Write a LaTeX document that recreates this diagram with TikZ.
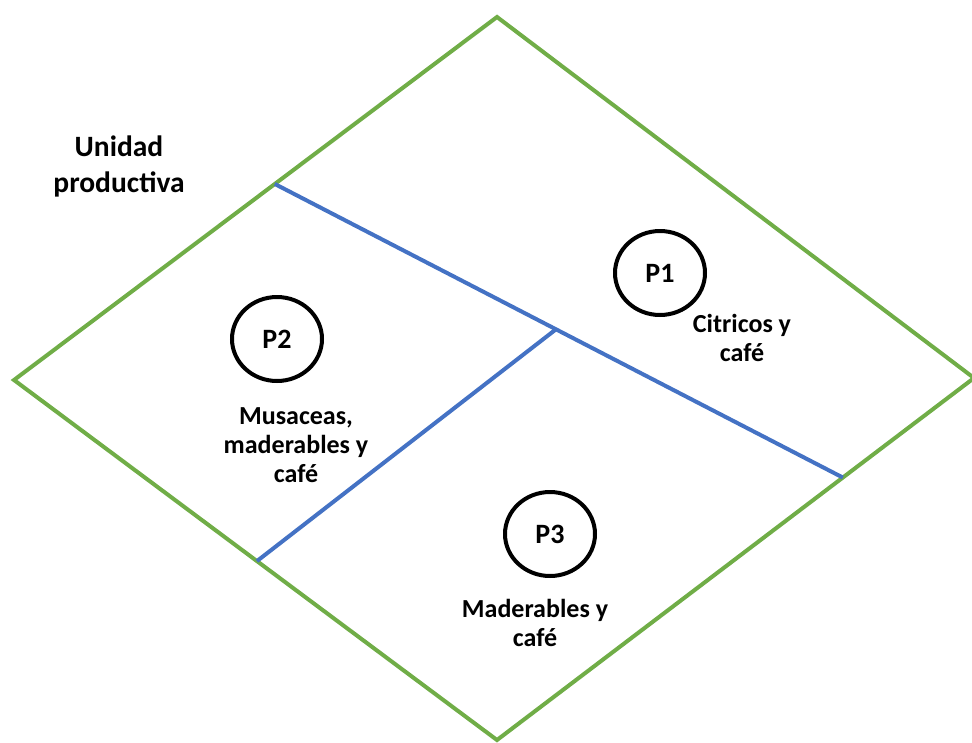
\documentclass[tikz,border=0pt]{standalone}
\usepackage{fontspec}
\setmainfont{Carlito}
\usetikzlibrary{calc}
\definecolor{plotgreen}{HTML}{70AD47}
\definecolor{divblue}{HTML}{4472C4}
\tikzset{
  boundary/.style={draw=plotgreen, line width=4pt, line join=miter},
  divider/.style={draw=divblue, line width=4pt},
  plotmark/.style={draw=black, line width=4pt},
  plotlabel/.style={font=\bfseries\fontsize{28}{32}\selectfont},
  croptext/.style={font=\bfseries\fontsize{26}{29}\selectfont, align=center, anchor=base},
  titletext/.style={font=\bfseries\fontsize{29.5}{36}\selectfont, align=center, anchor=base}
}
\begin{document}
\begin{tikzpicture}[x=1pt,y=-1pt]
\useasboundingbox (0,0) rectangle (972,742);
% diamond corners
\coordinate (T) at (497,17);
\coordinate (R) at (974,378);
\coordinate (B) at (497,740);
\coordinate (L) at (14,380);
\draw[boundary] (T) -- (R) -- (B) -- (L) -- cycle;
% dividers
\coordinate (d1) at ($(L)!0.540!(T)$);
\coordinate (d2) at ($(R)!0.275!(B)$);
\coordinate (j) at ($(d1)!0.495!(d2)$);
\coordinate (d3) at ($(L)!0.503!(B)$);
\draw[divider] (d1) -- (d2);
\draw[divider] (j) -- (d3);
% plot circles
\draw[plotmark] (660,273) ellipse [x radius=45, y radius=42];
\draw[plotmark] (277,339) ellipse [x radius=45, y radius=42];
\draw[plotmark] (550,534) ellipse [x radius=45, y radius=42];
\node[plotlabel] (p1) at (660,273) {P1};
\node[plotlabel] (p2) at (277,339) {P2};
\node[plotlabel] (p3) at (550,534) {P3};
% texts (anchor = baseline of last line)
\node[croptext] (t1) at (742,361) {Citricos y\\café};
\node[croptext] (t2) at (296,482) {Musaceas,\\maderables y\\café};
\node[croptext] (t3) at (535,646) {Maderables y\\café};
\node[titletext] (u) at (119,192) {Unidad\\productiva};
\end{tikzpicture}
\end{document}
